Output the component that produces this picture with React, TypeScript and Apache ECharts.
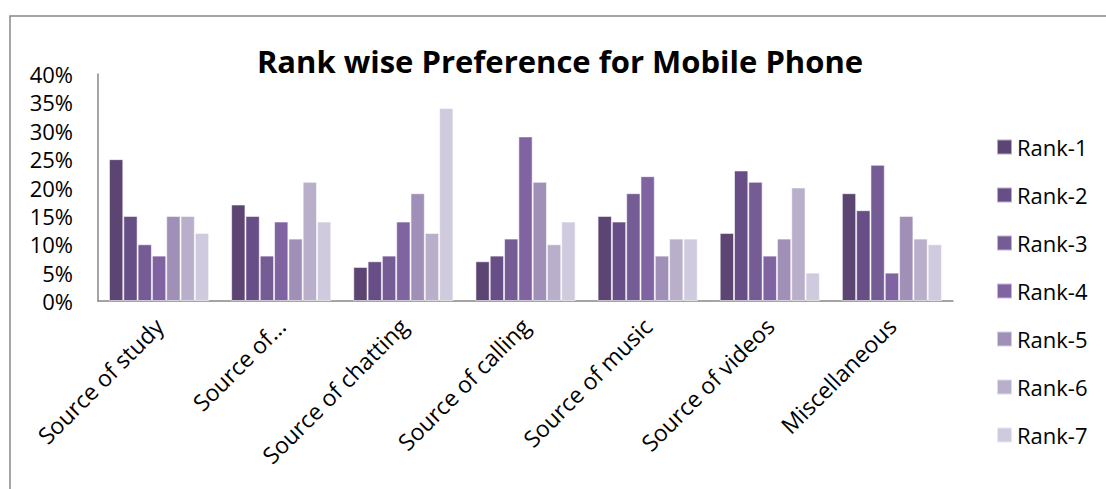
import React, { useEffect, useRef } from "react";
import * as echarts from "echarts";

// Uses of a mobile phone (x categories)
const categories = [
  "Source of study",
  "Source of...",
  "Source of chatting",
  "Source of calling",
  "Source of music",
  "Source of videos",
  "Miscellaneous",
];

// Share of respondents (%) giving each rank to each use
const rank1 = [25, 17, 6, 7, 15, 12, 19];
const rank2 = [15, 15, 7, 8, 14, 23, 16];
const rank3 = [10, 8, 8, 11, 19, 21, 24];
const rank4 = [8, 14, 14, 29, 22, 8, 5];
const rank5 = [15, 11, 19, 21, 8, 11, 15];
const rank6 = [15, 21, 12, 10, 11, 20, 11];
const rank7 = [12, 14, 34, 14, 11, 5, 10];

const rankNames = ["Rank-1", "Rank-2", "Rank-3", "Rank-4", "Rank-5", "Rank-6", "Rank-7"];
const rankValues = [rank1, rank2, rank3, rank4, rank5, rank6, rank7];
const rankColors = ["#5c4572", "#674e86", "#755c95", "#8064a2", "#a090b8", "#b9afcb", "#d0cade"];

// Y axis ticks (%)
const yMin = 0;
const yMax = 40;
const yStep = 5;

const FONT = "'Open Sans', 'Noto Sans', sans-serif";

export default function App() {
  const ref = useRef<HTMLDivElement>(null);

  useEffect(() => {
    if (!ref.current) return;
    const chart = echarts.init(ref.current, undefined, { renderer: "svg" });
    chart.setOption({
      animation: false,
      backgroundColor: "#ffffff",
      textStyle: { fontFamily: FONT },
      graphic: [
        {
          type: "rect",
          shape: { x: 10, y: 16, width: 1200, height: 600 },
          style: { fill: "none", stroke: "#888888", lineWidth: 1.5 },
          silent: true,
          z: -1,
        },
        {
          type: "text",
          x: 560,
          y: 61,
          style: {
            text: "Rank wise Preference for Mobile Phone",
            fontFamily: FONT,
            fontWeight: "bold",
            fontSize: 31,
            fill: "#000000",
            textAlign: "center",
            textVerticalAlign: "middle",
          },
        },
      ],
      legend: {
        orient: "vertical",
        left: 996,
        top: 136,
        padding: 0,
        itemWidth: 15,
        itemHeight: 15,
        itemGap: 26,
        icon: "rect",
        data: rankNames,
        textStyle: {
          fontFamily: FONT,
          fontSize: 22,
          lineHeight: 22,
          color: "#000000",
        },
      },
      grid: { left: 98, right: 153, top: 74, bottom: 188, containLabel: false },
      xAxis: {
        type: "category",
        data: categories,
        axisLine: { show: true, lineStyle: { color: "#878787", width: 1.5 } },
        axisTick: { show: false },
        axisLabel: {
          interval: 0,
          rotate: 45,
          margin: 21,
          fontFamily: FONT,
          fontSize: 23,
          color: "#000000",
        },
      },
      yAxis: {
        type: "value",
        min: yMin,
        max: yMax,
        interval: yStep,
        axisLine: { show: true, lineStyle: { color: "#878787", width: 1.5 } },
        axisTick: { show: false },
        splitLine: { show: false },
        axisLabel: {
          margin: 25,
          formatter: "{value}%",
          fontFamily: FONT,
          fontSize: 22,
          color: "#000000",
        },
      },
      series: rankNames.map((name, i) => ({
        name,
        type: "bar",
        data: rankValues[i],
        barGap: "0%",
        barCategoryGap: "18%",
        itemStyle: {
          color: rankColors[i],
          borderColor: "rgba(255,255,255,0.55)",
          borderWidth: 1,
        },
      })),
    });
    return () => chart.dispose();
  }, []);

  return (
    <div
      ref={ref}
      style={{ position: "fixed", left: 0, top: 0, width: 1106, height: 489 }}
    />
  );
}
